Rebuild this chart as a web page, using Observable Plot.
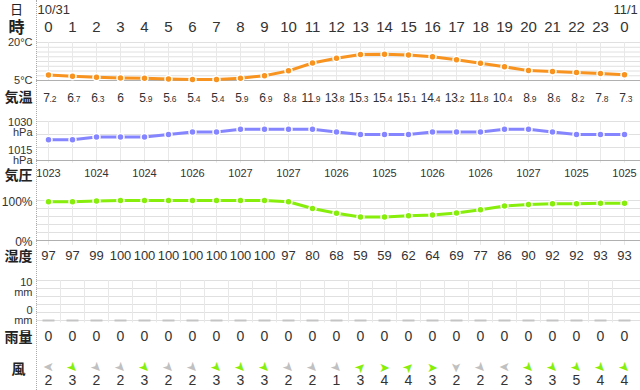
<!DOCTYPE html>
<html><head><meta charset="utf-8">
<script src="https://cdn.jsdelivr.net/npm/d3@7"></script>
<script src="https://cdn.jsdelivr.net/npm/@observablehq/plot@0.6"></script>
<style>
body{margin:0;background:#fff;}
#wrap{position:relative;width:640px;height:390px;overflow:hidden;background:#fff;}
#wrap svg{position:absolute;left:0;}
#sep{position:absolute;left:36px;top:0;height:390px;border-left:1px dotted #aaa;z-index:5;}
</style></head>
<body><div id="wrap"><div id="sep"></div></div>
<script>
// ---- data ----
const hourLabels = ["0","1","2","3","4","5","6","7","8","9","10","11","12","13","14","15","16","17","18","19","20","21","22","23","0"];
const dateLabels = ["10/31","11/1"];
const dateAt = [0, 24];
const temps = [7.2,6.7,6.3,6,5.9,5.6,5.4,5.4,5.9,6.9,8.8,11.9,13.8,15.3,15.4,15.1,14.4,13.2,11.8,10.4,8.9,8.6,8.2,7.8,7.3];
const pressure = [1023,1023,1024,1024,1024,1025,1026,1026,1027,1027,1027,1027,1026,1025,1025,1025,1026,1026,1026,1027,1027,1026,1025,1025,1025];
const humidity = [97,97,99,100,100,100,100,100,100,100,97,80,68,59,59,62,64,69,77,86,90,92,92,93,93];
const rain = [0,0,0,0,0,0,0,0,0,0,0,0,0,0,0,0,0,0,0,0,0,0,0,0,0];
const windSpeed = [2,3,2,2,3,2,2,3,3,3,2,2,1,3,4,4,3,2,2,2,3,3,5,4,4];
// direction the arrow points to (degrees clockwise from north)
const windDir = [270,135,135,135,135,135,135,135,135,135,135,135,135,45,90,45,90,180,135,270,135,135,135,135,135];
const tempTicks = [20,5];
const pressTop = [1030], pressBottom = [1015];
const humTicks = [100,0];
const rainTop = [10], rainBottom = [0];

const rows = hourLabels.map((h,i)=>({i,h,t:temps[i],p:pressure[i],hum:humidity[i],r:rain[i],ws:windSpeed[i],wd:windDir[i]}));

const ORANGE = "#f7931e", PURPLE = "#8585ff", GREEN = "#86ee0a", GRAYA = "#c0c0c0";
const GRID = "#e0e0e0", GRIDV = "#e8e8e8", BASE = "#b0b0b0";
const NUMFONT = "'Liberation Sans', Arial, 'Noto Sans CJK JP', sans-serif";
const JPFONT = "'Noto Sans CJK JP', sans-serif";

const wrap = document.getElementById("wrap");
function place(svg, top){ svg.style.top = top + "px"; wrap.appendChild(svg); }
const common = {
  width: 640, marginLeft: 36, marginRight: 0,
  x: {domain: [-0.5, 24.5], range: [36, 636], axis: null},
  style: {fontFamily: NUMFONT, color: "#333", background: "transparent", overflow: "visible"}
};
const M = "middle";
const side = (txt, opts) => Plot.text([txt], {text: d=>d, fontFamily: JPFONT, fontWeight: "bold", fontSize: 14, fill: "#222", lineAnchor: M, textAnchor: M, ...opts});

// header
place(Plot.plot({...common, height: 40, marginTop: 0, marginBottom: 0,
  marks: [
    Plot.text(["日"], {text: d=>d, frameAnchor: "top-left", lineAnchor: M, textAnchor: M, dx: -20, dy: 9, fontSize: 13, fontFamily: JPFONT, fill: "#222"}),
    Plot.text(["時"], {text: d=>d, frameAnchor: "top-left", lineAnchor: M, textAnchor: M, dx: -20, dy: 27, fontSize: 16, fontFamily: JPFONT, fontWeight: "bold", fill: "#222"}),
    Plot.text(dateLabels, {x: (d,k)=>dateAt[k], text: d=>d, frameAnchor: "top", lineAnchor: M, dy: 9, textAnchor: "start", dx: -11, fontSize: 13}),
    Plot.text(rows, {x: "i", text: "h", frameAnchor: "top", lineAnchor: M, dy: 27, fontSize: 15})
  ]}), 0);

// temperature
const tempGrid = d3.range(0, 9).map(k => 5 + k * 15 / 8);
const hasDec = d => !Number.isInteger(d.t);
place(Plot.plot({...common, height: 70, marginTop: 2, marginBottom: 30,
  y: {domain: [5, 20], range: [40, 2], axis: null},
  marks: [
    Plot.ruleY(tempGrid, {stroke: GRID}),
    Plot.ruleX(rows, {x: "i", y1: 5, y2: 20, stroke: GRIDV}),
    Plot.ruleY([5], {stroke: BASE}),
    Plot.line(rows, {x: "i", y: "t", stroke: ORANGE, strokeWidth: 3}),
    Plot.dot(rows, {x: "i", y: "t", r: 3.5, fill: ORANGE, stroke: "white", strokeWidth: 1.5}),
    Plot.text(tempTicks, {y: d=>d, text: d=>d + "°C", frameAnchor: "left", lineAnchor: M, dx: -4, textAnchor: "end", fontSize: 11}),
    Plot.text(rows, {filter: hasDec, x: "i", text: d=>String(d.t).split(".")[0], frameAnchor: "bottom", dy: 21, lineAnchor: "bottom", textAnchor: "end", dx: 1.5, fontSize: 12}),
    Plot.text(rows, {filter: hasDec, x: "i", text: d=>"." + String(d.t).split(".")[1], frameAnchor: "bottom", dy: 21, lineAnchor: "bottom", textAnchor: "start", dx: 1, fontSize: 8.5}),
    Plot.text(rows, {filter: d=>!hasDec(d), x: "i", text: d=>String(d.t), frameAnchor: "bottom", dy: 21, lineAnchor: "bottom", fontSize: 12}),
    side("気温", {frameAnchor: "bottom-left", dx: -18, dy: 17})
  ]}), 40);

// pressure
place(Plot.plot({...common, height: 75, marginTop: 11, marginBottom: 25,
  y: {domain: [1015, 1030], range: [50, 11], axis: null},
  marks: [
    Plot.ruleY([1020, 1025, 1030], {stroke: GRID}),
    Plot.ruleX(rows, {x: "i", y1: 1014, y2: 1030, stroke: GRIDV}),
    Plot.ruleY([1015], {stroke: BASE}),
    Plot.line(rows, {x: "i", y: "p", stroke: PURPLE, strokeWidth: 3}),
    Plot.dot(rows, {x: "i", y: "p", r: 3.5, fill: PURPLE, stroke: "white", strokeWidth: 1.5}),
    Plot.text(pressTop, {y: d=>d, text: d=>d + "\nhPa", frameAnchor: "left", lineAnchor: M, dx: -4, dy: 6.5, textAnchor: "end", fontSize: 11, lineHeight: 0.9}),
    Plot.text(pressBottom, {y: d=>d, text: d=>d + "\nhPa", frameAnchor: "left", lineAnchor: M, dx: -4, dy: -5, textAnchor: "end", fontSize: 11, lineHeight: 0.9}),
    Plot.text(rows, {filter: d=>d.i % 2 === 0, x: "i", text: d=>String(d.p), frameAnchor: "bottom", lineAnchor: M, dy: 13, fontSize: 11}),
    side("気圧", {frameAnchor: "bottom-left", dx: -18, dy: 15})
  ]}), 110);

// humidity
place(Plot.plot({...common, height: 80, marginTop: 15, marginBottom: 25,
  y: {domain: [0, 100], range: [55, 15], axis: null},
  marks: [
    Plot.ruleY([20, 40, 60, 80, 100], {stroke: GRID}),
    Plot.ruleX(rows, {x: "i", y1: -12, y2: 100, stroke: GRIDV}),
    Plot.ruleY([0], {stroke: BASE}),
    Plot.line(rows, {x: "i", y: "hum", stroke: GREEN, strokeWidth: 3}),
    Plot.dot(rows, {x: "i", y: "hum", r: 3.5, fill: GREEN, stroke: "white", strokeWidth: 1.5}),
    Plot.text(humTicks, {y: d=>d, text: d=>d + "%", frameAnchor: "left", lineAnchor: M, dx: -4, dy: 2, textAnchor: "end", fontSize: 12}),
    Plot.text(rows, {x: "i", text: d=>String(d.hum), frameAnchor: "bottom", lineAnchor: M, dy: 15, fontSize: 13}),
    side("湿度", {frameAnchor: "bottom-left", dx: -18, dy: 16})
  ]}), 185);

// rain
place(Plot.plot({...common, height: 80, marginTop: 15, marginBottom: 25,
  y: {domain: [0, 10], range: [55, 15], axis: null},
  marks: [
    Plot.ruleY([0, 2, 4, 6, 8, 10], {stroke: GRID}),
    Plot.ruleX(rows, {filter: d=>d.i < 24, x: d=>d.i + 0.5, y1: -0.6, y2: 10, stroke: GRIDV}),
    Plot.link(rows, {x1: d=>d.i - 0.25, x2: d=>d.i + 0.25, y1: "r", y2: "r", stroke: "#c4c4c4", strokeWidth: 2}),
    Plot.text(rainTop, {y: d=>d, text: d=>d + "\nmm", frameAnchor: "left", lineAnchor: M, dx: -4, dy: 7, textAnchor: "end", fontSize: 11, lineHeight: 0.9}),
    Plot.text(rainBottom, {y: d=>d, text: d=>d + "\nmm", frameAnchor: "left", lineAnchor: M, dx: -4, dy: -5, textAnchor: "end", fontSize: 11, lineHeight: 0.9}),
    Plot.text(rows, {x: "i", text: d=>String(d.r), frameAnchor: "bottom", lineAnchor: M, dy: 16, fontSize: 14}),
    side("雨量", {frameAnchor: "bottom-left", dx: -18, dy: 17})
  ]}), 265);

// wind
place(Plot.plot({...common, height: 45, marginTop: 0, marginBottom: 0,
  color: {type: "identity"},
  marks: [
    Plot.text(rows, {x: "i", text: () => "➤", rotate: d=>d.wd - 90, frameAnchor: "top", lineAnchor: M, dy: 22, fontSize: 13, fill: d=>d.ws >= 3 ? GREEN : GRAYA, fontFamily: "'DejaVu Sans', sans-serif"}),
    Plot.text(rows, {x: "i", text: d=>String(d.ws), frameAnchor: "top", lineAnchor: M, dy: 35, fontSize: 14}),
    side("風", {frameAnchor: "top-left", dx: -18, dy: 24})
  ]}), 345);
</script>
</body></html>
